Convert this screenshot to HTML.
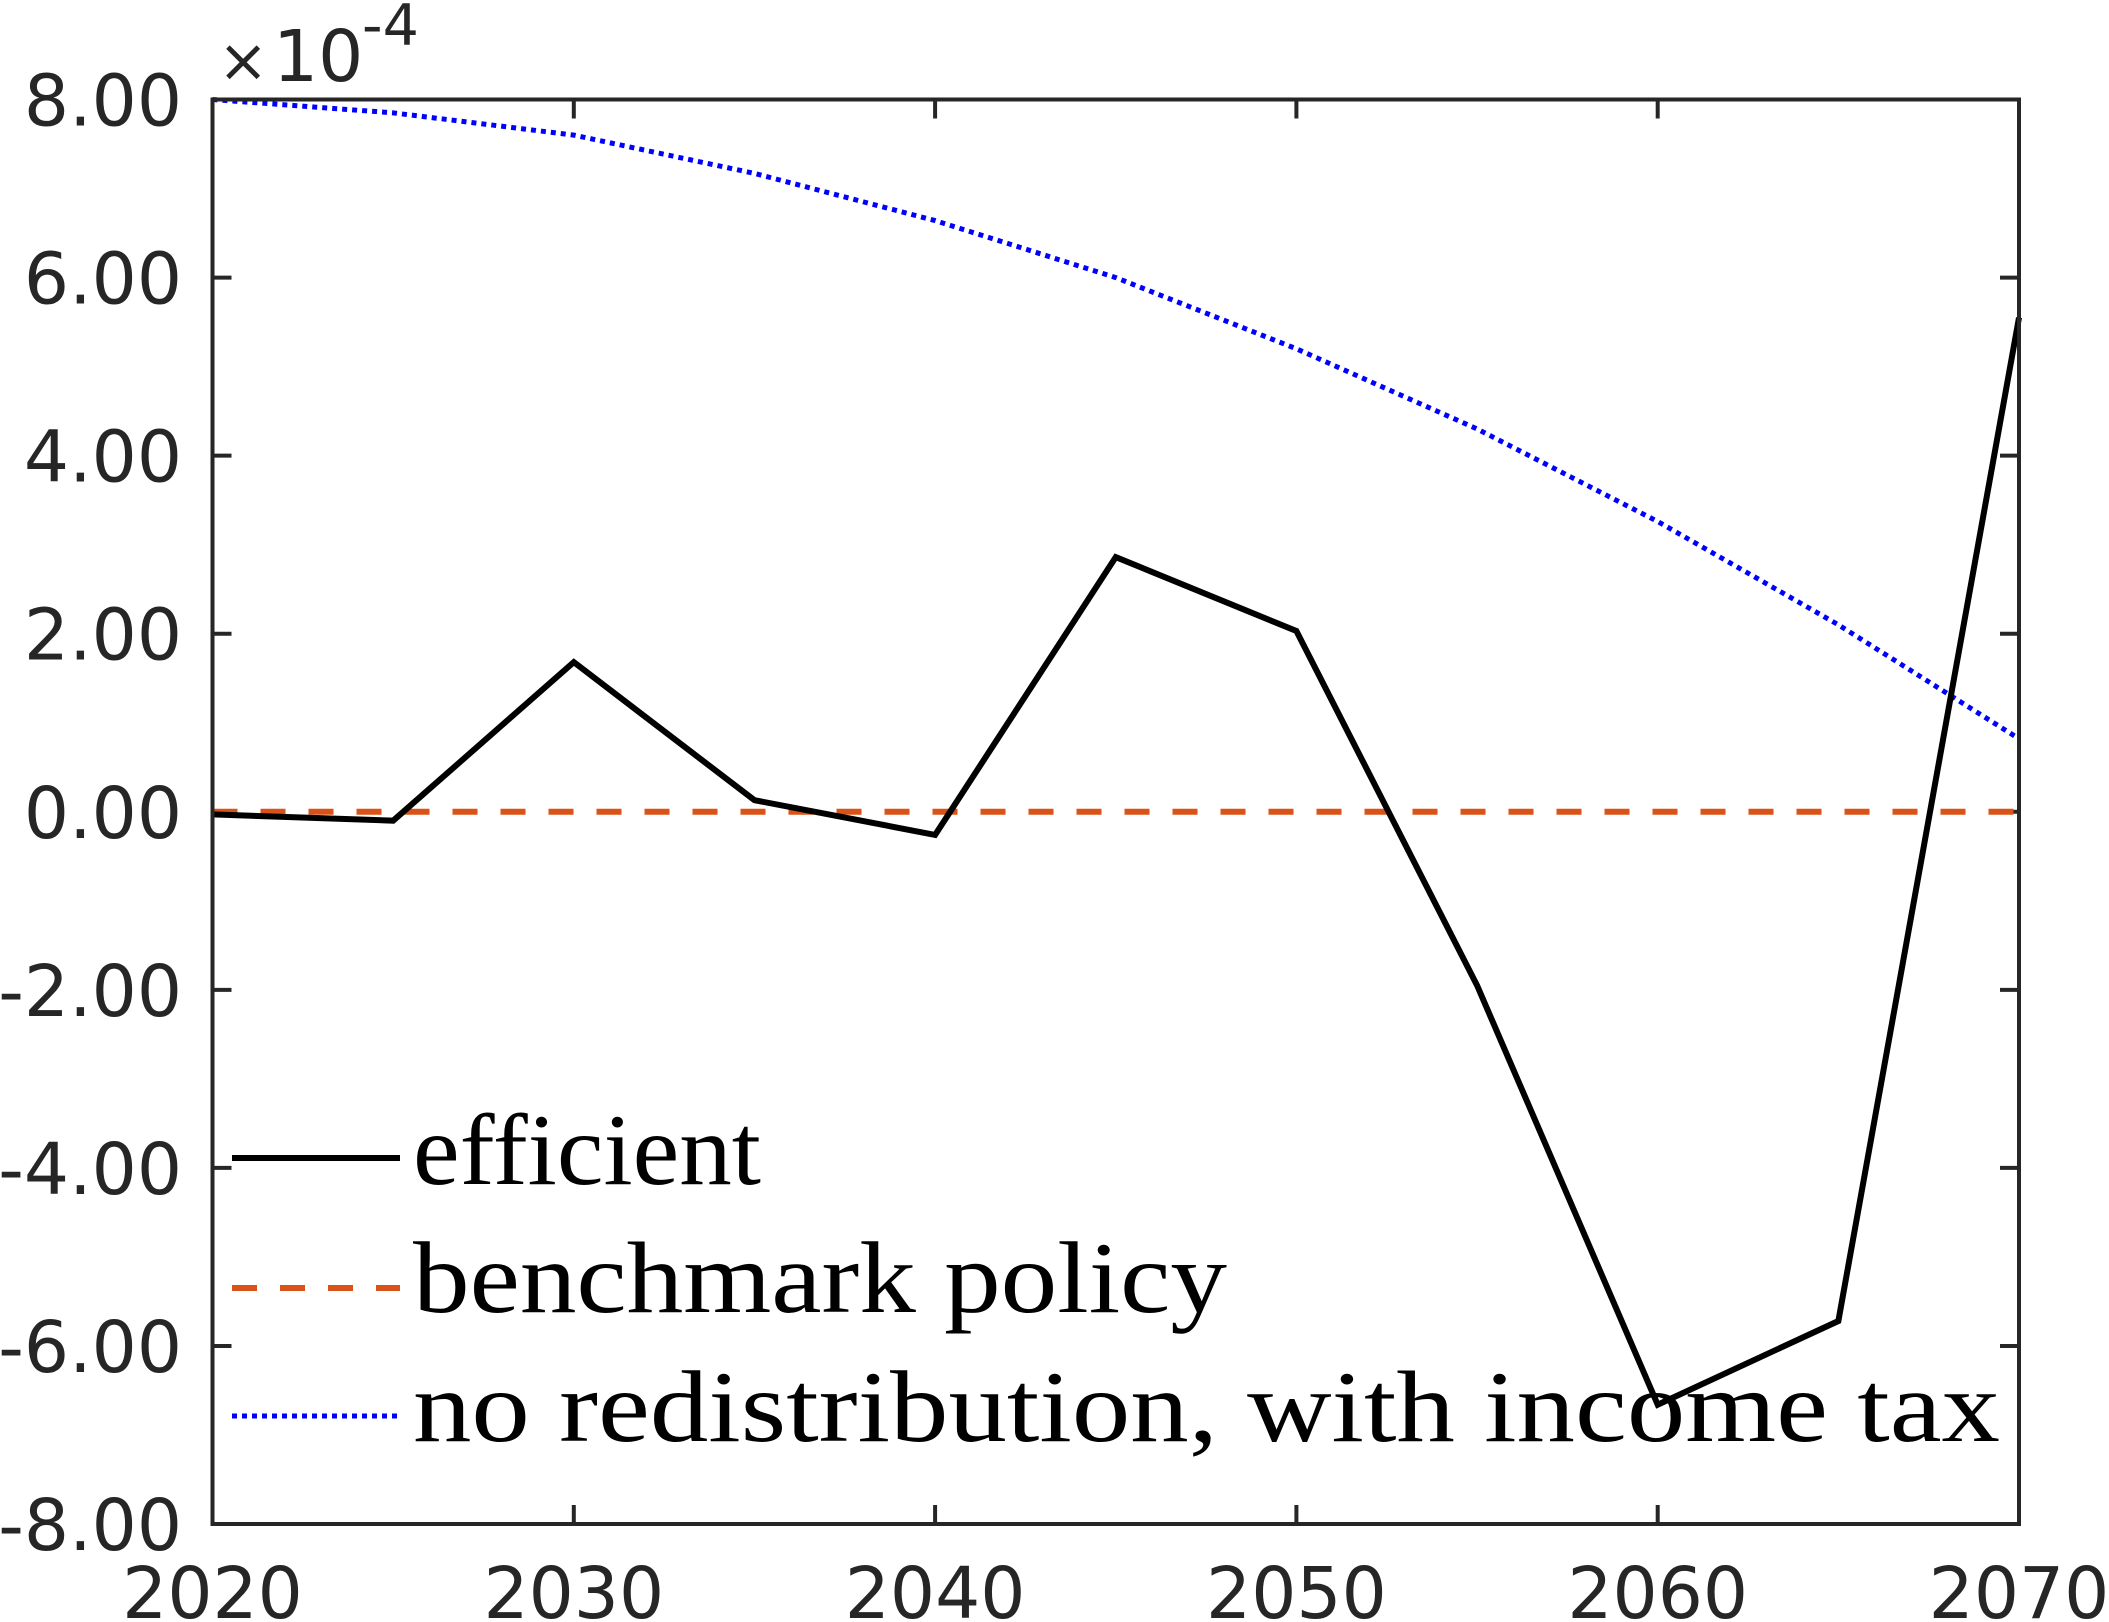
<!DOCTYPE html>
<html><head><meta charset="utf-8"><style>
html,body{margin:0;padding:0;background:#fff;}
svg{display:block;}
.tk{font-family:"DejaVu Sans","Liberation Sans",sans-serif;font-size:71px;fill:#262626;}
.lg{font-family:"Liberation Serif","DejaVu Serif",serif;font-size:102px;fill:#000;}
</style></head><body>
<svg id="chart" width="2109" height="1622" viewBox="0 0 2109 1622" xmlns="http://www.w3.org/2000/svg">
<g id="grid"></g>
<g id="series"></g>
<rect x="212.5" y="99.5" width="1806.5" height="1424.5" fill="none" stroke="#262626" stroke-width="4"/>
<g>
<text class="tk" x="218" y="81" style="font-size:60px">×</text>
<text class="tk" x="273" y="81">10</text>
<text class="tk" x="362" y="45" style="font-size:57px">-4</text>
</g>
<g>
<line x1="232" y1="1158" x2="400" y2="1158" stroke="#000" stroke-width="6"/>
<text class="lg" x="413" y="1184" textLength="348" lengthAdjust="spacingAndGlyphs">efficient</text>
<line x1="232" y1="1288" x2="400" y2="1288" stroke="#D95319" stroke-width="6" stroke-dasharray="25,23"/>
<text class="lg" x="413" y="1312" textLength="814" lengthAdjust="spacingAndGlyphs">benchmark policy</text>
<line x1="232" y1="1416" x2="400" y2="1416" stroke="#0000FF" stroke-width="5" stroke-dasharray="5,5"/>
<text class="lg" x="413" y="1441" textLength="1587" lengthAdjust="spacingAndGlyphs">no redistribution, with income tax</text>
</g>
</svg>
<script>
const years=[2020,2025,2030,2035,2040,2045,2050,2055,2060,2065,2070];
const efficient=[-0.03,-0.1,1.68,0.13,-0.26,2.86,2.03,-1.95,-6.66,-5.72,5.55];
const benchmark=[0,0,0,0,0,0,0,0,0,0,0];
const noRedist=[8.0,7.85,7.6,7.17,6.64,6.0,5.2,4.3,3.26,2.1,0.82];
const xTicks=[2020,2030,2040,2050,2060,2070];
const yTicks=[8,6,4,2,0,-2,-4,-6,-8];
const yTickLabels=["8.00","6.00","4.00","2.00","0.00","-2.00","-4.00","-6.00","-8.00"];

const L=212.5,R=2019,T=99.5,B=1524;
const xs=v=>L+(v-2020)/(2070-2020)*(R-L);
const ys=v=>T+(8-v)/16*(B-T);
const NS="http://www.w3.org/2000/svg";
const svg=document.getElementById('chart');
const grid=document.getElementById('grid');
const ser=document.getElementById('series');
function mk(tag,attrs,parent){const e=document.createElementNS(NS,tag);for(const k in attrs)e.setAttribute(k,attrs[k]);parent.appendChild(e);return e;}

xTicks.forEach(t=>{
  const x=xs(t);
  const a=mk('line',{x1:x,x2:x,y1:B,y2:B-19,stroke:'#262626','stroke-width':4},grid);
  
  
  const b=mk('line',{x1:x,x2:x,y1:T,y2:T+19,stroke:'#262626','stroke-width':4},grid);
  
  
  const tx=mk('text',{x:x,y:1618,'text-anchor':'middle',class:'tk'},svg);
  tx.textContent=t;
  
  
});
yTicks.forEach((t,i)=>{
  const y=ys(t);
  const a=mk('line',{x1:L,x2:L+19,y1:y,y2:y,stroke:'#262626','stroke-width':4},grid);
  
  
  const b=mk('line',{x1:R,x2:R-19,y1:y,y2:y,stroke:'#262626','stroke-width':4},grid);
  
  
  const tx=mk('text',{x:182,y:y+26,'text-anchor':'end',class:'tk'},svg);
  tx.textContent=yTickLabels[i];
  
  
});
function pts(arr){return years.map((yr,i)=>xs(yr)+','+ys(arr[i])).join(' ');}
const p3=mk('polyline',{points:pts(noRedist),fill:'none',stroke:'#0000FF','stroke-width':5,'stroke-dasharray':'5,5'},ser);


const p2=mk('polyline',{points:pts(benchmark),fill:'none',stroke:'#D95319','stroke-width':6,'stroke-dasharray':'25,23'},ser);


const p1=mk('polyline',{points:pts(efficient),fill:'none',stroke:'#000','stroke-width':6,'stroke-linejoin':'miter'},ser);


</script>
</body></html>
